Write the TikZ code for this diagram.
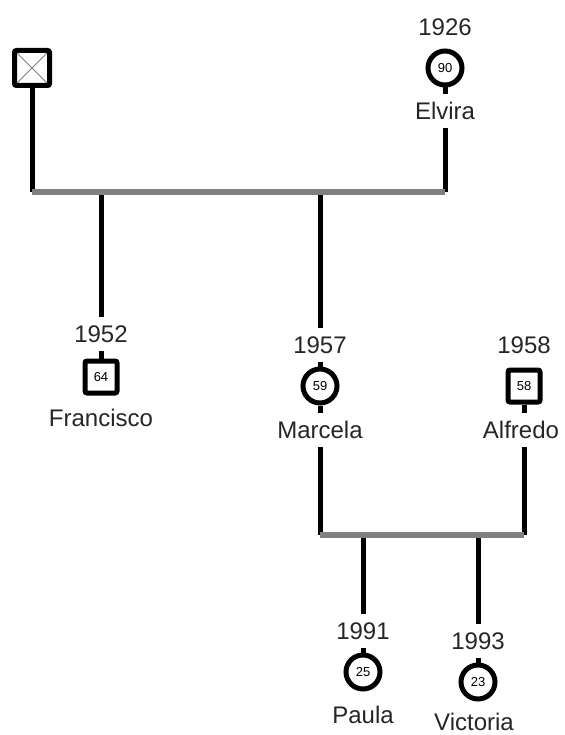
\documentclass[tikz,border=0pt]{standalone}
\usepackage{fontspec}
\setmainfont{Liberation Sans}
\usetikzlibrary{positioning,backgrounds}

\begin{document}
\begin{tikzpicture}[x=1pt, y=-1pt, node distance=41pt]
    % Style definitions for the genogram symbols
    \tikzset{male/.style={rectangle, rounded corners=2pt, draw=black, line width=5pt, fill=white,
             minimum size=32pt, inner sep=0pt, font=\fontsize{13}{13}\selectfont}}
    \tikzset{female/.style={circle, draw=black, line width=5pt, fill=white,
             minimum size=34pt, inner sep=0pt, font=\fontsize{13}{13}\selectfont}}
    \tikzset{tag/.style={fill=white, minimum height=34pt, inner xsep=1pt, inner ysep=0pt,
             text=black!85, font=\fontsize{24}{24}\selectfont}}
    \tikzstyle{link} = [line width=5pt, black]
    \tikzstyle{sibship} = [line width=6pt, gray]

    \useasboundingbox (0,0) rectangle (564,735);

    % Family members
    \node (dec) [male, minimum size=35pt,
                 path picture={\draw[gray, line width=0.8pt]
                    (path picture bounding box.north west) -- (path picture bounding box.south east)
                    (path picture bounding box.north east) -- (path picture bounding box.south west);}]
                 at (32,68) {};
    \node (elvira) [female] at (445,68) {90};
    \node (fran) [male] at (101,377) {64};
    \node (marcela) [female] at (320,386) {59};
    \node (alfredo) [male] at (524,386) {58};
    \node (paula) [female] at (363,672) {25};
    \node (victoria) [female] at (478,682) {23};

    % Years of birth (ABOVE)
    \node (y1926) [tag, above of=elvira] {1926};
    \node (y1952) [tag, above of=fran, yshift=2pt] {1952};
    \node (y1957) [tag, above of=marcela] {1957};
    \node (y1958) [tag, above of=alfredo] {1958};
    \node (y1991) [tag, above of=paula] {1991};
    \node (y1993) [tag, above of=victoria] {1993};

    % Names (BELOW)
    \node (n1) [tag, below of=elvira, yshift=-2pt] {Elvira};
    \node (n2) [tag, below of=fran] {Francisco};
    \node (n3) [tag, below of=marcela, yshift=-3pt] {Marcela};
    \node (n4) [tag, below of=alfredo, yshift=-3pt, xshift=-3pt] {Alfredo};
    \node (n5) [tag, below of=paula, yshift=-2pt] {Paula};
    \node (n6) [tag, minimum height=0pt, below of=victoria, yshift=1pt, xshift=-4pt] {Victoria};

    % Sibship levels
    \coordinate (top) at (0,192);
    \coordinate (low) at (0,535);

    % Lines connecting the members
    \begin{scope}[on background layer]
        \draw [link] (dec) -- (dec |- top);
        \draw [link] (elvira) -- (elvira |- top);
        \draw [link] (fran) -- (fran |- top);
        \draw [link] (marcela) -- (marcela |- top);
        \draw [link] (marcela) -- (marcela |- low);
        \draw [link] (alfredo) -- (alfredo |- low);
        \draw [link] (paula) -- (paula |- low);
        \draw [link] (victoria) -- (victoria |- low);
        \draw [sibship] (dec |- top) -- (elvira |- top);
        \draw [sibship] (marcela |- low) -- (alfredo |- low);
    \end{scope}

\end{tikzpicture}
\end{document}
